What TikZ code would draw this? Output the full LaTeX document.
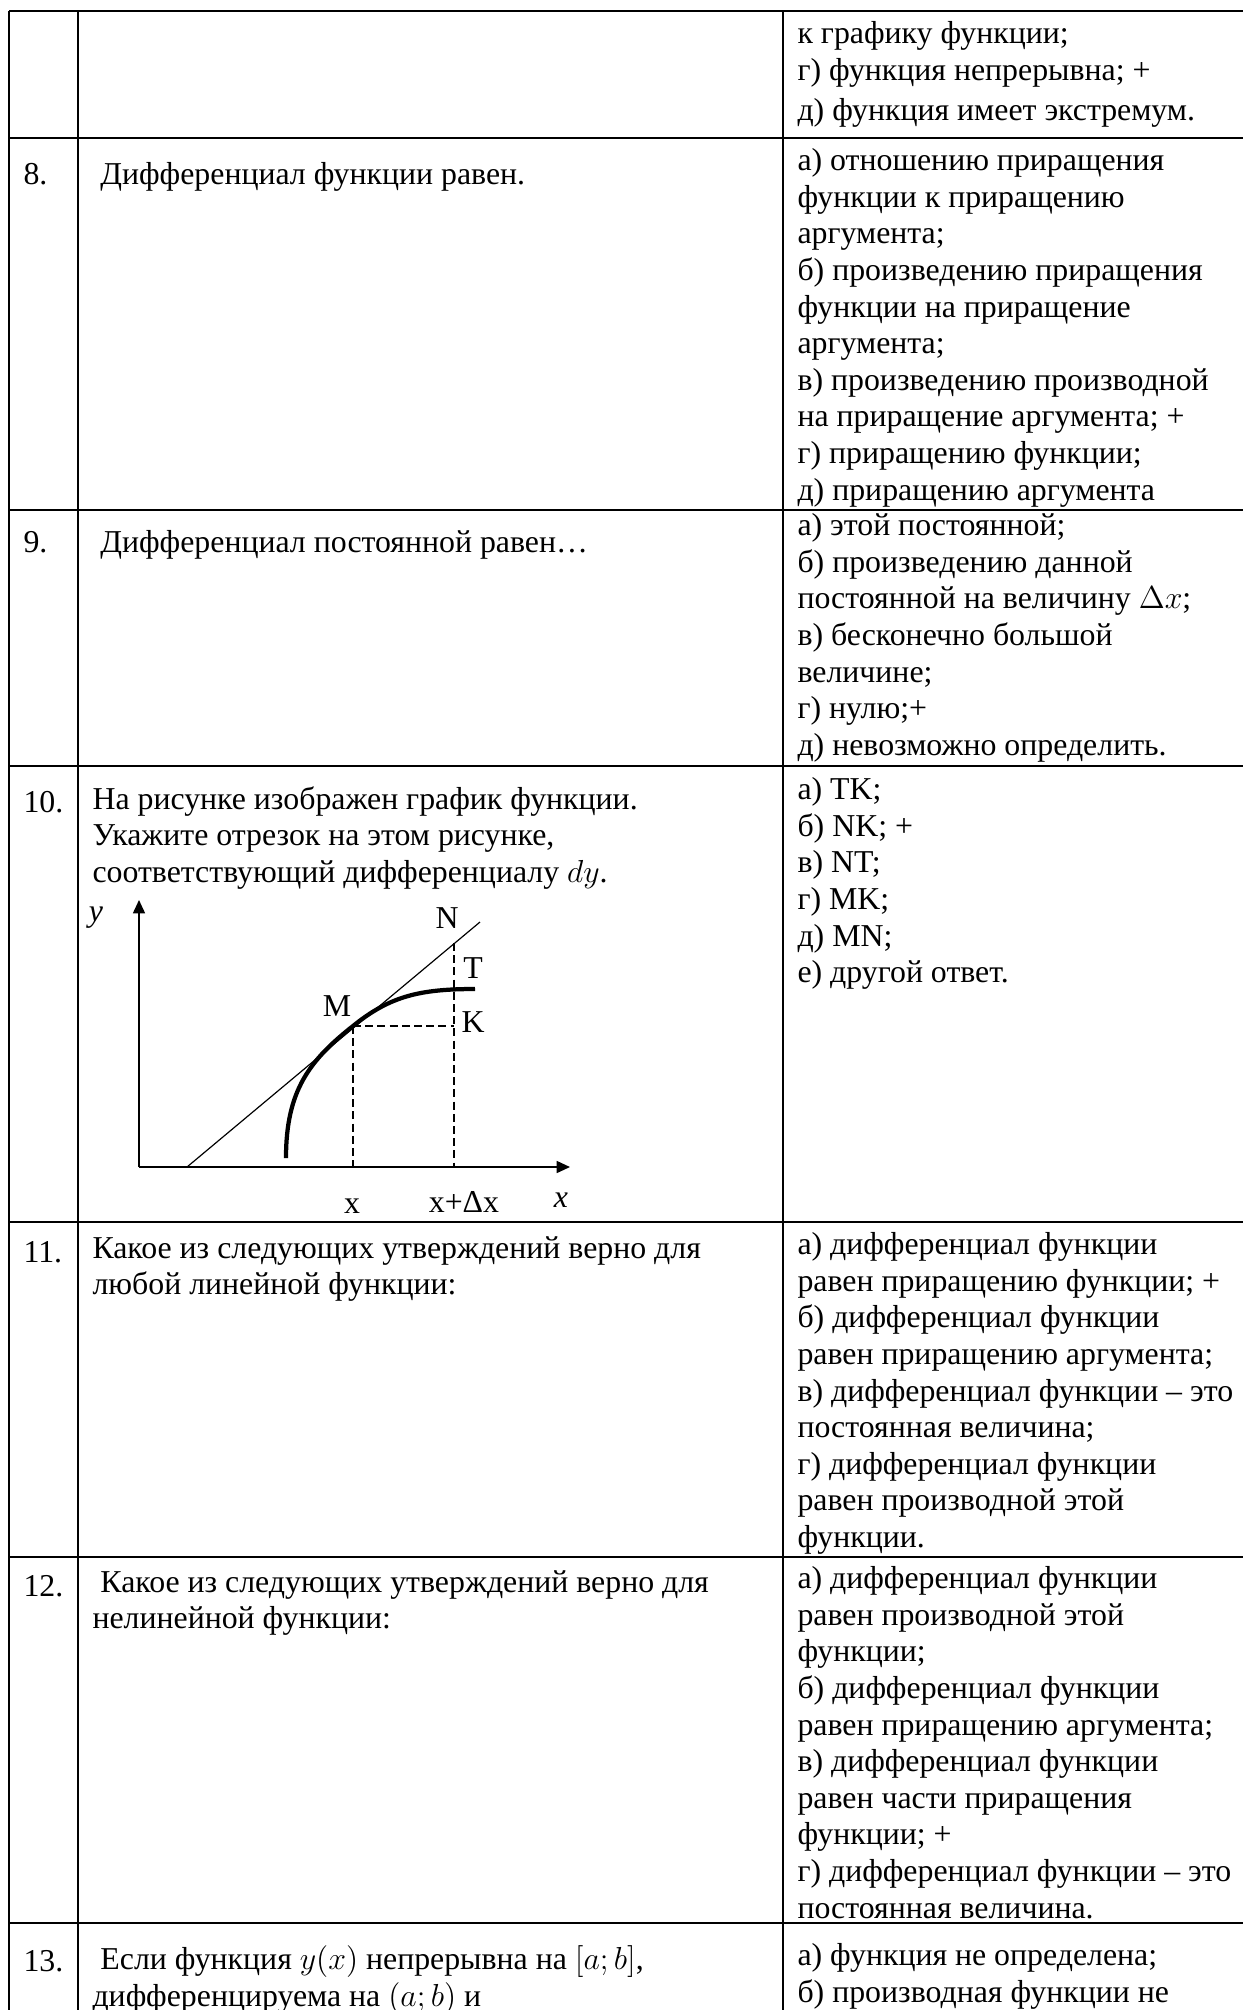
\documentclass[tikz,border=0pt]{standalone}
\usepackage{fontspec}
\setmainfont{Liberation Serif}
\usetikzlibrary{arrows.meta}
\newcommand{\cellfont}{\fontsize{12pt}{13.8pt}\selectfont}

\begin{document}
\begin{tikzpicture}[x=0.377pt, y=-0.377pt,
    cell/.style={anchor=north west, inner sep=0pt, align=left, font=\cellfont, execute at begin node=\strut},
    lbl/.style={inner sep=0pt, font=\cellfont},
    rule/.style={line width=0.5pt},
    axis/.style={line width=0.6pt, -{Triangle[length=5pt,width=4.5pt]}},
    helper/.style={line width=0.5pt, dash pattern=on 3pt off 1.6pt}]
    \useasboundingbox (0,0) rectangle (1243,2010);

    \foreach \y in {11,138,510,766,1222,1557,1923}
        \draw[rule] (9,\y) -- (1243,\y);
    \foreach \x in {9,78,783}
        \draw[rule] (\x,11) -- (\x,2010);

    \node[cell] (ans7) at (797,21) {к графику функции;\\г) функция непрерывна; +\\[1.3pt]д) функция имеет экстремум.};

    \node[cell] (num8) at (23,158) {8.};
    \node[cell] (q8) at (92,158) {\hspace*{3pt}Дифференциал функции равен.};
    \node[cell] (ans8) at (797,148) {а) отношению приращения\\функции к приращению\\аргумента;\\б) произведению приращения\\функции на приращение\\аргумента;\\в) произведению производной\\на приращение аргумента; +\\г) приращению функции;\\д) приращению аргумента};

    \node[cell] (num9) at (23,526) {9.};
    \node[cell] (q9) at (92,526) {\hspace*{3pt}Дифференциал постоянной равен…};
    \node[cell] (ans9) at (797,513) {а) этой постоянной;\\б) произведению данной\\постоянной на величину $\Delta x$;\\в) бесконечно большой\\величине;\\г) нулю;+\\д) невозможно определить.};

    \node[cell] (num10) at (23,786) {10.};
    \node[cell] (q10) at (92,786) {На рисунке изображен график функции.\\Укажите отрезок на этом рисунке,\\соответствующий дифференциалу $dy$.};
    \node[cell] (ans10) at (797,777) {а) TK;\\б) NK; +\\в) NT;\\г) MK;\\д) MN;\\е) другой ответ.};

    \coordinate (O) at (139,1167);
    \coordinate (ytip) at (139,900);
    \coordinate (xtip) at (570,1167);
    \coordinate (ta) at (187,1167);
    \coordinate (tb) at (480,922);
    \coordinate (M) at (353,1026);
    \coordinate (Mx) at (353,1167);
    \coordinate (N) at (454,943);
    \coordinate (K) at (454,1026);
    \coordinate (Kx) at (454,1167);
    \coordinate (cs) at (286,1158);
    \coordinate (ce) at (475,989);
    \draw[axis] (O) -- (ytip);
    \draw[axis] (O) -- (xtip);
    \draw[line width=0.45pt] (ta) -- (tb);
    \draw[helper] (M) -- (Mx);
    \draw[helper] (M) -- (K);
    \draw[helper] (N) -- (Kx);
    \draw[line width=1.6pt] (cs) .. controls (286,1090) and (310,1060) .. (M) .. controls (390,996) and (420,989) .. (ce);
    \node[lbl] (ylab) at (96,918) {\itshape y};
    \node[lbl] (nlab) at (447,918) {N};
    \node[lbl] (tlab) at (473,968) {T};
    \node[lbl] (mlab) at (337,1006) {M};
    \node[lbl] (klab) at (473,1022) {K};
    \node[lbl] (xlab) at (352,1206) {x};
    \node[lbl] (dxlab) at (464,1202) {x+Δx};
    \node[lbl] (axlab) at (561,1200) {\itshape x};

    \node[cell] (num11) at (23,1236) {11.};
    \node[cell] (q11) at (92,1236) {Какое из следующих утверждений верно для\\любой линейной функции:};
    \node[cell] (ans11) at (797,1232) {а) дифференциал функции\\равен приращению функции; +\\б) дифференциал функции\\равен приращению аргумента;\\в) дифференциал функции – это\\постоянная величина;\\г) дифференциал функции\\равен производной этой\\функции.};

    \node[cell] (num12) at (23,1570) {12.};
    \node[cell] (q12) at (92,1570) {\hspace*{3pt}Какое из следующих утверждений верно для\\нелинейной функции:};
    \node[cell] (ans12) at (797,1566) {а) дифференциал функции\\равен производной этой\\функции;\\б) дифференциал функции\\равен приращению аргумента;\\в) дифференциал функции\\равен части приращения\\функции; +\\г) дифференциал функции – это\\постоянная величина.};

    \node[cell] (num13) at (23,1945) {13.};
    \node[cell] (q13) at (92,1945) {\hspace*{3pt}Если функция $y(x)$ непрерывна на $[a;b]$,\\дифференцируема на $(a;b)$ и};
    \node[cell] (ans13) at (797,1943) {а) функция не определена;\\б) производная функции не};
\end{tikzpicture}
\end{document}
